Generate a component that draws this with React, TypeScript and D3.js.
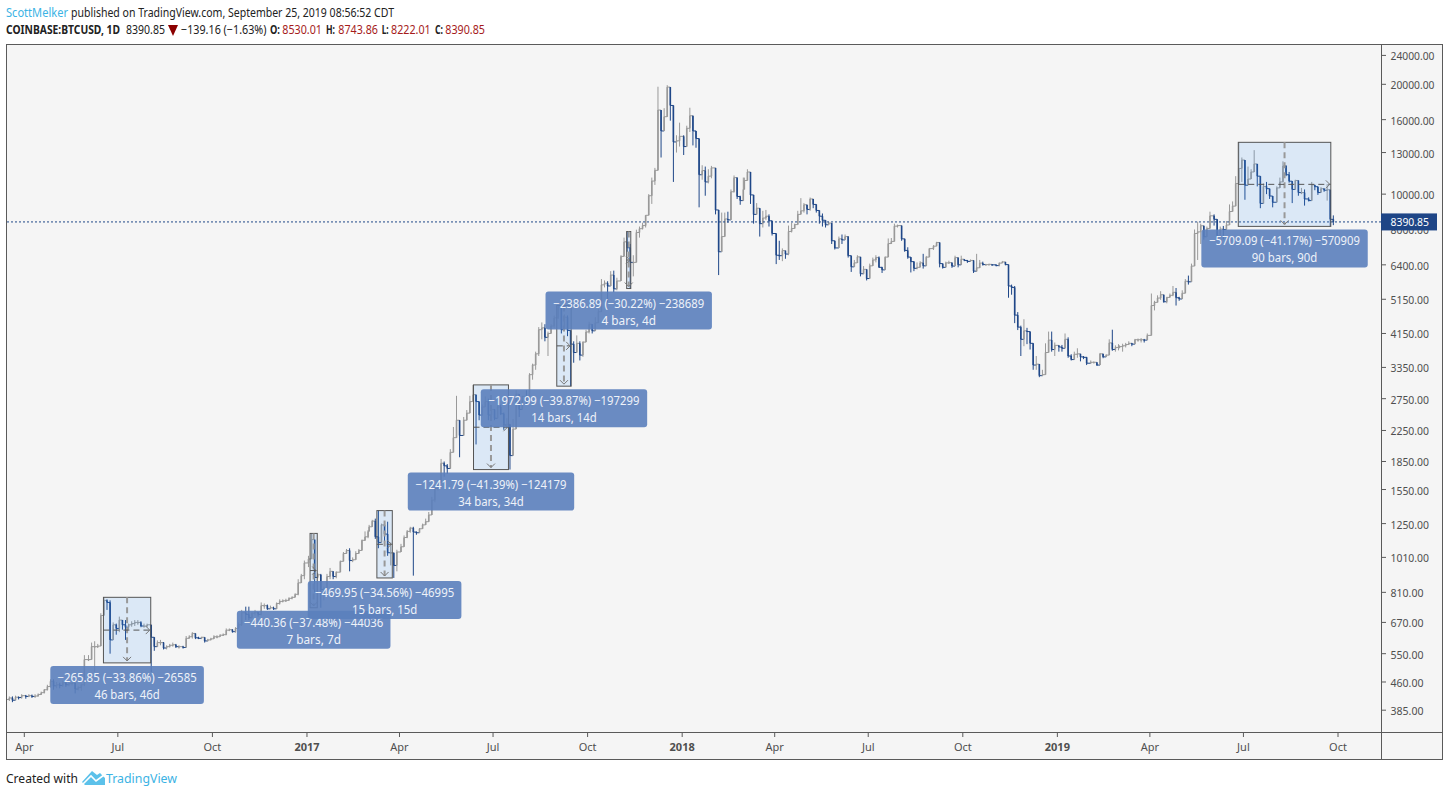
import React from 'react';
import * as d3 from 'd3';

// bars are sampled on fixed days of the month, one row per month below
const monthDays = [1, 4, 7, 10, 13, 16, 19, 22, 25, 28];
const firstDays = [13, 16, 19, 22, 25, 28];
const lastDays = [1, 4, 7, 10, 13, 16, 19, 22, 25];

const closes = [
  412, 416, 410, 418, 417, 422,
  420, 422, 420, 421, 425, 430, 438, 447, 462, 449,
  452, 450, 458, 452, 455, 457, 440, 444, 452, 530,
  530, 575, 575, 577, 700, 770, 760, 600, 660, 645,
  680, 660, 650, 660, 665, 670, 670, 655, 655, 660,
  610, 575, 590, 590, 570, 575, 580, 582, 575, 575,
  572, 606, 612, 625, 608, 606, 610, 596, 600, 604,
  612, 612, 618, 620, 638, 640, 632, 645, 660, 712,
  705, 690, 710, 715, 705, 745, 745, 730, 735, 730,
  755, 765, 768, 770, 780, 785, 800, 860, 900, 975,
  1000, 1130, 890, 905, 825, 830, 895, 925, 895, 920,
  985, 1035, 1055, 990, 995, 1035, 1055, 1125, 1150, 1190,
  1225, 1270, 1150, 1110, 1240, 1170, 1040, 1040, 960, 1045,
  1080, 1145, 1190, 1215, 1185, 1180, 1210, 1240, 1265, 1320,
  1450, 1560, 1620, 1830, 1800, 1770, 1960, 2150, 2400, 2180,
  2400, 2510, 2700, 2820, 2700, 2480, 2610, 2700, 2480, 2570,
  2430, 2610, 2500, 2330, 2340, 1920, 2270, 2830, 2570, 2790,
  2720, 3200, 3400, 3650, 4250, 4300, 4050, 4150, 4350, 4580,
  4900, 4250, 4600, 4230, 3880, 3680, 3900, 3620, 3930, 4190,
  4400, 4220, 4440, 4760, 5640, 5700, 5600, 6000, 5500, 5780,
  6750, 7400, 7130, 6500, 6500, 7850, 8040, 8200, 8750, 9900,
  10860, 11620, 17000, 14900, 16300, 19650, 17500, 13900, 14000, 14400,
  13500, 15150, 16400, 14900, 14200, 11300, 11600, 10800, 11200, 11800,
  9050, 6950, 7650, 8550, 8500, 10150, 11100, 9850, 9600, 10300,
  10900, 11500, 9950, 8800, 9150, 8300, 8600, 8700, 8450, 7800,
  6800, 6780, 7000, 6850, 7900, 8050, 8250, 8800, 9000, 9350,
  9080, 9700, 9370, 9020, 8700, 8480, 8240, 8330, 7450, 7120,
  7540, 7490, 7650, 6780, 6320, 6480, 6730, 6050, 6220, 5870,
  6360, 6600, 6700, 6300, 6200, 6720, 7320, 7420, 8170, 8200,
  7540, 7010, 6720, 6530, 6260, 6300, 6480, 6360, 6720, 7090,
  7200, 7370, 6450, 6300, 6480, 6490, 6350, 6700, 6400, 6630,
  6580, 6540, 6580, 6150, 6280, 6470, 6410, 6410, 6420, 6400,
  6370, 6470, 6520, 6410, 5600, 5550, 4660, 4320, 4000, 4220,
  4200, 3900, 3400, 3420, 3180, 3200, 3680, 3980, 3750, 3850,
  3810, 3780, 4000, 3600, 3520, 3640, 3650, 3580, 3570, 3440,
  3460, 3460, 3400, 3650, 3580, 3620, 3910, 3750, 3800, 3810,
  3820, 3840, 3870, 3900, 3880, 3990, 3990, 3990, 3980, 4100,
  4950, 5050, 5190, 5300, 5070, 5210, 5280, 5380, 5200, 5160,
  5350, 5770, 5750, 6350, 7800, 7880, 8190, 7640, 8050, 8720,
  8530, 7680, 8020, 8000, 8230, 8960, 9270, 10690, 11760, 12400,
  10580, 11000, 11500, 12100, 11200, 9430, 10500, 10350, 9880, 9500,
  10400, 10800, 11950, 11300, 10850, 10300, 10900, 10100, 10100, 9700,
  9600, 10600, 10480, 10100, 10350, 10250, 10280, 8530, 8390.85,
];

const highs = [
  418, 420, 420, 422, 420, 426,
  424, 426, 425, 426, 428, 433, 440, 452, 468, 468,
  460, 458, 464, 462, 460, 462, 458, 448, 456, 545,
  545, 590, 595, 585, 710, 785, 775, 770, 670, 665,
  695, 680, 680, 665, 675, 680, 680, 675, 665, 665,
  660, 610, 598, 600, 592, 580, 585, 590, 585, 580,
  578, 615, 618, 630, 612, 612, 612, 610, 604, 608,
  618, 618, 622, 625, 645, 645, 642, 650, 670, 725,
  740, 740, 715, 725, 715, 760, 755, 750, 745, 740,
  760, 775, 775, 778, 785, 790, 805, 880, 910, 990,
  1020, 1175, 1035, 915, 910, 840, 910, 945, 925, 925,
  990, 1045, 1065, 1070, 1010, 1050, 1065, 1130, 1190, 1200,
  1240, 1280, 1290, 1357, 1250, 1260, 1265, 1110, 1000, 1060,
  1100, 1160, 1200, 1225, 1225, 1190, 1215, 1250, 1290, 1345,
  1480, 1600, 1650, 1880, 1850, 1820, 2000, 2300, 2800, 2350,
  2450, 2560, 2800, 3000, 2800, 2700, 2650, 2790, 2750, 2640,
  2520, 2640, 2650, 2520, 2430, 2200, 2420, 2900, 2780, 2800,
  2900, 3230, 3430, 3700, 4320, 4450, 4400, 4200, 4400, 4650,
  4949, 4500, 4680, 4650, 4150, 3950, 4100, 3950, 3950, 4250,
  4470, 4380, 4600, 4850, 5850, 5800, 5770, 6150, 6170, 5900,
  6800, 7600, 7898, 7300, 6800, 7990, 8150, 8350, 8750, 10000,
  11100, 11800, 19697, 16900, 17200, 19891, 19000, 17000, 14500, 15700,
  14500, 15400, 17250, 15000, 14700, 14000, 12000, 11900, 11700, 11950,
  10100, 8350, 8900, 8900, 8950, 10300, 11250, 10800, 9900, 11100,
  11100, 11700, 10900, 9900, 9450, 8900, 9000, 9050, 8800, 8100,
  7050, 7450, 7100, 6900, 8200, 8350, 8300, 9000, 9750, 9450,
  9250, 9790, 9650, 9300, 8780, 8850, 8350, 8400, 7600, 7350,
  7650, 7750, 7750, 7670, 6700, 6600, 6800, 6720, 6350, 6200,
  6450, 6700, 6800, 6750, 6320, 6750, 7560, 7580, 8300, 8250,
  7750, 7550, 7150, 6600, 6550, 6500, 6550, 6860, 6770, 7120,
  7250, 7400, 6520, 6400, 6530, 6570, 6450, 6780, 6500, 6780,
  6620, 6600, 6620, 6590, 6860, 6600, 6530, 6440, 6450, 6420,
  6420, 6500, 6560, 6480, 6360, 5650, 5600, 4750, 4360, 4540,
  4300, 3980, 3500, 3600, 3300, 3300, 3900, 4200, 4200, 3920,
  3850, 3860, 4150, 4050, 3640, 3700, 3780, 3620, 3600, 3580,
  3500, 3480, 3430, 3670, 3640, 3640, 4000, 4250, 3850, 3880,
  3850, 3890, 3910, 3950, 3910, 4010, 4020, 4030, 4010, 4150,
  5340, 5100, 5280, 5420, 5130, 5230, 5340, 5600, 5530, 5230,
  5450, 5850, 5980, 6450, 8000, 8400, 8300, 8000, 8150, 8950,
  8800, 8200, 8150, 8180, 8440, 9370, 9550, 11200, 13867, 12600,
  11200, 11900, 11700, 13200, 11800, 11100, 10700, 10800, 10200, 9700,
  10500, 11100, 12300, 12000, 11500, 10500, 10950, 10800, 10400, 10300,
  9800, 10800, 10550, 10400, 10450, 10380, 10650, 10100, 8743.86,
];

const lows = [
  398, 408, 405, 410, 412, 414,
  414, 418, 416, 416, 419, 424, 428, 436, 444, 438,
  442, 442, 446, 446, 448, 450, 428, 436, 435, 448,
  525, 560, 490, 570, 600, 700, 725, 550, 610, 620,
  630, 640, 600, 640, 652, 655, 660, 650, 648, 650,
  490, 560, 575, 580, 565, 565, 572, 575, 570, 568,
  568, 572, 605, 605, 603, 603, 603, 590, 594, 598,
  608, 606, 612, 615, 618, 634, 628, 628, 652, 655,
  680, 680, 695, 700, 695, 700, 730, 725, 730, 725,
  730, 750, 760, 762, 768, 775, 785, 795, 860, 880,
  950, 1000, 810, 885, 735, 770, 825, 880, 880, 885,
  960, 1010, 1040, 925, 980, 1020, 1040, 1095, 1120, 1140,
  1195, 1250, 1135, 1070, 1220, 1120, 1020, 960, 887, 925,
  1045, 1090, 1140, 1180, 900, 1165, 1190, 1215, 1245, 1300,
  1400, 1430, 1540, 1620, 1680, 1710, 1850, 2050, 2200, 1900,
  2320, 2440, 2650, 2700, 2060, 2400, 2470, 2660, 2400, 2460,
  2400, 2550, 2480, 2260, 2280, 1758, 2200, 2500, 2450, 2600,
  2650, 2700, 3100, 3300, 3600, 4000, 3950, 3600, 4150, 4300,
  4550, 4150, 4250, 4080, 2976, 3450, 3850, 3500, 3580, 3950,
  4150, 4150, 4300, 4550, 5380, 5550, 5050, 5700, 5380, 5450,
  6380, 6950, 6950, 5511, 5950, 7100, 7600, 8000, 8100, 9350,
  9400, 10600, 13200, 12600, 15800, 17500, 15900, 10800, 13000, 13500,
  12800, 13500, 14800, 13600, 13400, 9200, 10950, 9900, 10700, 11050,
  8800, 6000, 7500, 7800, 8350, 9400, 10100, 9700, 9350, 9800,
  10300, 11200, 9400, 8300, 8800, 7650, 8100, 8500, 8150, 7700,
  6430, 6600, 6550, 6650, 6800, 7850, 8100, 8700, 8800, 8900,
  8800, 9000, 9150, 8900, 8300, 8150, 8100, 8280, 7300, 7050,
  7350, 7300, 7550, 6700, 6120, 6380, 6480, 5950, 6030, 5800,
  6250, 6450, 6500, 6280, 6080, 6300, 7300, 7300, 7850, 8100,
  7450, 6950, 6650, 6100, 6150, 6220, 6330, 6250, 6600, 6880,
  7030, 7280, 6300, 6250, 6330, 6450, 6280, 6580, 6300, 6550,
  6550, 6480, 6540, 6080, 6120, 6330, 6370, 6380, 6380, 6360,
  6340, 6340, 6490, 6380, 5200, 5300, 4430, 4240, 3600, 3830,
  3880, 3750, 3300, 3300, 3150, 3170, 3500, 3800, 3700, 3600,
  3700, 3700, 3960, 3560, 3500, 3600, 3560, 3480, 3530, 3400,
  3430, 3440, 3380, 3570, 3550, 3600, 3850, 3720, 3700, 3730,
  3780, 3700, 3800, 3860, 3830, 3880, 3940, 3920, 3920, 3990,
  4100, 4800, 5050, 5130, 5040, 5020, 5240, 5250, 4950, 5100,
  5300, 5350, 5650, 5950, 6850, 6600, 7300, 7500, 7900, 8400,
  8200, 7450, 7900, 7520, 7970, 8500, 9030, 10000, 11000, 10800,
  9650, 10700, 11100, 11500, 10500, 9150, 9800, 10000, 9700, 9200,
  9900, 10500, 11300, 11200, 10750, 9450, 10300, 9900, 10000, 9300,
  9550, 9600, 10250, 9950, 10150, 10150, 9600, 8158, 8222.01,
];

const priceTicks = [24000, 20000, 16000, 13000, 10000, 8000, 6400, 5150, 4150, 3350, 2750, 2250, 1850, 1550, 1250, 1010, 810, 670, 550, 460, 385];
const timeTicks = ['2016-04-01', '2016-07-01', '2016-10-01', '2017-01-01', '2017-04-01', '2017-07-01', '2017-10-01', '2018-01-01', '2018-04-01', '2018-07-01', '2018-10-01', '2019-01-01', '2019-04-01', '2019-07-01', '2019-10-01'];
const timeLabels = ['Apr', 'Jul', 'Oct', '2017', 'Apr', 'Jul', 'Oct', '2018', 'Apr', 'Jul', 'Oct', '2019', 'Apr', 'Jul', 'Oct'];

const rangeStarts = ['2016-06-17', '2017-01-04', '2017-03-10', '2017-06-12', '2017-09-01', '2017-11-08', '2019-06-26'];
const rangeEnds = ['2016-08-02', '2017-01-11', '2017-03-25', '2017-07-16', '2017-09-15', '2017-11-12', '2019-09-24'];
const rangeHighs = [785, 1175, 1357, 3000, 4949, 7898, 13867];
const rangeLows = [519, 735, 887, 1758, 2976, 5511, 8158];
const rangeText = [
  '−265.85 (−33.86%) −26585',
  '−440.36 (−37.48%) −44036',
  '−469.95 (−34.56%) −46995',
  '−1241.79 (−41.39%) −124179',
  '−1972.99 (−39.87%) −197299',
  '−2386.89 (−30.22%) −238689',
  '−5709.09 (−41.17%) −570909',
];
const rangeBars = ['46 bars, 46d', '7 bars, 7d', '15 bars, 15d', '34 bars, 34d', '14 bars, 14d', '4 bars, 4d', '90 bars, 90d'];

const lastPrice = 8390.85;

const WIDTH = 1450;
const HEIGHT = 796;
const FONT = '"Noto Sans", sans-serif';
const BLUE = '#1f4788';
const GREY = '#999999';
const TEXT = '#4f4f4f';
const RED = '#a61c1c';
const INK = '#222222';

const buildDates = (): Date[] => {
  const out: Date[] = [];
  for (let y = 2016, m = 2; y < 2019 || m <= 8; m === 11 ? (y++, m = 0) : m++) {
    const days = y === 2016 && m === 2 ? firstDays : y === 2019 && m === 8 ? lastDays : monthDays;
    days.forEach(d => out.push(new Date(Date.UTC(y, m, d))));
  }
  return out;
};

// header text squeezed to the width it has in the picture
const Head: React.FC<{ x: number; w: number; y: number; fill?: string; bold?: boolean; children: string }> = ({ x, w, y, fill = INK, bold, children }) => (
  <text x={x} y={y} fontSize={12} fill={fill} fontWeight={bold ? 700 : 400} textLength={w} lengthAdjust="spacingAndGlyphs">
    {children}
  </text>
);

const App: React.FC = () => {
  const x = d3.scaleUtc()
    .domain([new Date('2016-04-01'), new Date('2019-10-01')])
    .range([24.3, 1338]);
  const y = d3.scaleLog()
    .domain([385, 20000])
    .range([710.2, 84.3]);

  const dates = buildDates();
  const bars = closes.map((c, i) => {
    const open = i === 0 ? c : closes[i - 1];
    return {
      date: dates[i],
      open,
      close: c,
      high: Math.max(highs[i], open, c),
      low: Math.min(lows[i], open, c),
    };
  });

  return (
    <svg width={WIDTH} height={HEIGHT} style={{ position: 'absolute', left: 0, top: 0, display: 'block', background: '#fff' }} fontFamily={FONT}>
      <defs>
        <clipPath id="plot">
          <rect x={7} y={45} width={1374} height={687} />
        </clipPath>
      </defs>

      {/* header */}
      <Head x={6} w={62} y={17} fill="#3bb3e4">ScottMelker</Head>
      <Head x={71} w={323} y={17}>published on TradingView.com, September 25, 2019 08:56:52 CDT</Head>
      <Head x={6} w={114} y={34} bold>COINBASE:BTCUSD, 1D</Head>
      <Head x={126} w={39} y={34}>8390.85</Head>
      <path d="M168 25 L178 25 L173 36 Z" fill="#8b0000" />
      <Head x={181} w={85.5} y={34}>−139.16 (−1.63%)</Head>
      <Head x={270} w={10} y={34} bold>O:</Head>
      <Head x={282.3} w={39.7} y={34} fill={RED}>8530.01</Head>
      <Head x={326} w={9} y={34} bold>H:</Head>
      <Head x={338.3} w={39.7} y={34} fill={RED}>8743.86</Head>
      <Head x={381.7} w={7} y={34} bold>L:</Head>
      <Head x={391} w={39.7} y={34} fill={RED}>8222.01</Head>
      <Head x={435} w={8} y={34} bold>C:</Head>
      <Head x={445.3} w={39.7} y={34} fill={RED}>8390.85</Head>

      {/* frame */}
      <rect x={6.5} y={44.5} width={1436} height={715} fill="#f5f5f5" stroke="#5a5a5a" />
      <line x1={6} x2={1443} y1={732.5} y2={732.5} stroke="#5a5a5a" />
      <line x1={1381.5} x2={1381.5} y1={44} y2={760} stroke="#5a5a5a" />

      {/* candles */}
      <g clipPath="url(#plot)">
        {bars.map((b, i) => {
          const color = b.close >= b.open ? GREY : BLUE;
          const px = x(b.date) + 1.5;
          const top = y(Math.max(b.open, b.close));
          const bottom = y(Math.min(b.open, b.close));
          const next = i < bars.length - 1 ? x(bars[i + 1].date) + 1.5 : px;
          return (
            <g key={i}>
              <line x1={px} x2={px} y1={y(b.high)} y2={y(b.low)} stroke={color} strokeWidth={1} />
              <rect x={px - 0.8} y={top} width={1.6} height={Math.max(bottom - top, 1)} fill={color} />
              <line x1={px} x2={next} y1={y(b.close)} y2={y(b.close)} stroke={color} strokeWidth={1} />
            </g>
          );
        })}
        <line x1={7} x2={1381} y1={y(lastPrice)} y2={y(lastPrice)} stroke={BLUE} strokeDasharray="2 2" />
      </g>

      {/* measured ranges */}
      {rangeText.map((t, i) => {
        const x0 = x(new Date(rangeStarts[i]));
        const x1 = x(new Date(rangeEnds[i]));
        const y0 = y(rangeHighs[i]);
        const y1 = y(rangeLows[i]);
        const cx = (x0 + x1) / 2;
        const cy = (y0 + y1) / 2;
        return (
          <g key={i}>
            <rect x={x0} y={y0} width={x1 - x0} height={y1 - y0} fill="#2f8fff" fillOpacity={0.13} stroke="#555" />
            <line x1={cx} x2={cx} y1={y0} y2={y1 - 2} stroke="#999" strokeWidth={2} strokeDasharray="6 4" />
            <path d={`M${cx - 4} ${y1 - 6} L${cx} ${y1 - 2} L${cx + 4} ${y1 - 6}`} fill="none" stroke="#777" />
            <line x1={x0} x2={x1} y1={cy} y2={cy} stroke="#555" strokeDasharray="6 4" />
            <path d={`M${x1 - 5} ${cy - 4} L${x1 - 1} ${cy} L${x1 - 5} ${cy + 4}`} fill="none" stroke="#777" />
          </g>
        );
      })}
      {rangeText.map((t, i) => {
        const cx = (x(new Date(rangeStarts[i])) + x(new Date(rangeEnds[i]))) / 2;
        const top = y(rangeLows[i]) + 3;
        const w = t.length * 6.4;
        return (
          <g key={i}>
            <rect x={cx - w / 2} y={top} width={w} height={38} rx={3} fill="#5b7fbd" fillOpacity={0.9} />
            <text x={cx} y={top + 16} textAnchor="middle" fontSize={11.9} fill="#eef2f9" textLength={t.length * 5.8} lengthAdjust="spacingAndGlyphs">{t}</text>
            <text x={cx} y={top + 33} textAnchor="middle" fontSize={11.9} fill="#eef2f9" textLength={rangeBars[i].length * 5.45} lengthAdjust="spacingAndGlyphs">{rangeBars[i]}</text>
          </g>
        );
      })}

      {/* price axis */}
      {priceTicks.map(p => (
        <g key={p}>
          <line x1={1382} x2={1386} y1={y(p)} y2={y(p)} stroke="#5a5a5a" />
          <text x={1390.5} y={y(p) + 5} fontSize={11} fill={TEXT} textLength={p.toFixed(2).length * 5.5} lengthAdjust="spacingAndGlyphs">{p.toFixed(2)}</text>
        </g>
      ))}
      <rect x={1381} y={y(lastPrice) - 8.5} width={56} height={17} fill="#1e4586" />
      <text x={1390.5} y={y(lastPrice) + 4.5} fontSize={11} fill="#fff" textLength={38.5} lengthAdjust="spacingAndGlyphs">{lastPrice.toFixed(2)}</text>

      {/* time axis */}
      {timeTicks.map((d, i) => (
        <g key={d}>
          <line x1={x(new Date(d))} x2={x(new Date(d))} y1={733} y2={737} stroke="#5a5a5a" />
          <text
            x={x(new Date(d))}
            y={751}
            textAnchor="middle"
            fontSize={11}
            fontWeight={timeLabels[i].length === 4 ? 700 : 400}
            fill={TEXT}
          >
            {timeLabels[i]}
          </text>
        </g>
      ))}

      {/* footer */}
      <text x={6} y={783} fontSize={12.5} fill={INK} textLength={72} lengthAdjust="spacingAndGlyphs">Created with</text>
      <path d="M82 782 L92 771 L97 775 L100 773 L105 778 L105 785 L85 785 Z" fill="#5cc1ea" />
      <path d="M83 784 L91 776 L96 781 L104 775" fill="none" stroke="#fff" strokeWidth={1.6} />
      <text x={106} y={783} fontSize={12.5} fill="#3bb3e4" textLength={71} lengthAdjust="spacingAndGlyphs">TradingView</text>
    </svg>
  );
};

export default App;
